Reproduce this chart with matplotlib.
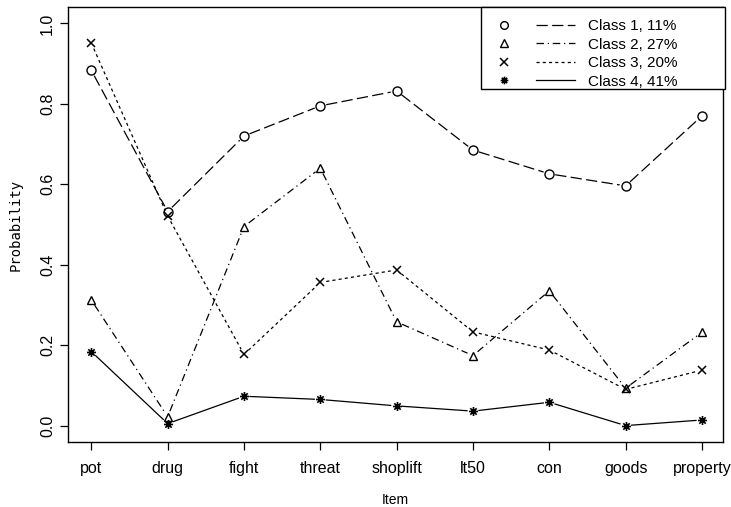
import numpy as np
import matplotlib
matplotlib.use("Agg")
import matplotlib.pyplot as plt
from matplotlib.path import Path
from matplotlib.lines import Line2D
from matplotlib.patches import Rectangle
from matplotlib.legend_handler import HandlerTuple

plt.rcParams["font.family"] = ["Liberation Sans", "DejaVu Sans"]

items = ["pot", "drug", "fight", "threat", "shoplift", "lt50", "con", "goods", "property"]
class_labels = ["Class 1, 11%", "Class 2, 27%", "Class 3, 20%", "Class 4, 41%"]
class1 = [0.883, 0.532, 0.720, 0.795, 0.832, 0.685, 0.626, 0.596, 0.770]
class2 = [0.312, 0.022, 0.495, 0.640, 0.258, 0.174, 0.335, 0.093, 0.232]
class3 = [0.951, 0.521, 0.177, 0.356, 0.387, 0.233, 0.188, 0.090, 0.138]
class4 = [0.184, 0.005, 0.073, 0.065, 0.049, 0.036, 0.058, 0.000, 0.014]
yticks = [0.0, 0.2, 0.4, 0.6, 0.8, 1.0]

# R-style "asterisk" symbol: a plus overlaid on an x
_s = 0.7071
star_path = Path(
    [(-1, 0), (1, 0), (0, -1), (0, 1), (-_s, -_s), (_s, _s), (-_s, _s), (_s, -_s)],
    [Path.MOVETO, Path.LINETO] * 4,
)

styles = [
    dict(marker="o", ms=6.5, mew=1.0, dashes=(9, 3.5)),
    dict(marker="^", ms=6.0, mew=1.0, dashes=(6, 3, 1, 3)),
    dict(marker="x", ms=6.0, mew=1.1, dashes=(2.5, 2.5)),
    dict(marker=star_path, ms=6.5, mew=1.2, dashes=None),
]
series = [class1, class2, class3, class4]

fig = plt.figure(figsize=(7.31, 5.07), dpi=100)
ax = fig.add_axes([0.0926, 0.1288, 0.8969, 0.8568])
x = np.arange(1, len(items) + 1)
ax.set_xlim(0.69, 9.28)
ax.set_ylim(-0.04, 1.04)

LW = 0.9


def gapped_line(xs, ys, gap_px, dashes):
    """Connect consecutive points with segments that stop short of each symbol."""
    pts = ax.transData.transform(np.column_stack([xs, ys]))
    inv = ax.transData.inverted()
    for p, q in zip(pts[:-1], pts[1:]):
        d = q - p
        L = np.hypot(*d)
        if L <= 2 * gap_px:
            continue
        u = d / L
        seg = inv.transform(np.array([p + u * gap_px, q - u * gap_px]))
        ln, = ax.plot(seg[:, 0], seg[:, 1], color="black", lw=LW)
        if dashes:
            ln.set_dashes(dashes)


handles = []
for vals, st, lab in zip(series, styles, class_labels):
    gapped_line(x, vals, 6.0, st["dashes"])
    filled = st["marker"] in ("o", "^")
    ax.plot(x, vals, ls="none", marker=st["marker"], ms=st["ms"],
            mfc="white" if filled else "none", mec="black", mew=st["mew"])
    mk = Line2D([], [], ls="none", marker=st["marker"], ms=st["ms"] * 0.85,
                mfc="white" if filled else "none", mec="black", mew=st["mew"])
    ln = Line2D([], [], color="black", lw=LW)
    if st["dashes"]:
        ln.set_dashes(st["dashes"])
    handles.append((mk, ln))

ax.set_xticks(x)
ax.set_xticklabels(items)
ax.set_yticks(yticks)
ax.set_yticklabels([f"{v:.1f}" for v in yticks], rotation=90, va="center")
ax.tick_params(axis="both", direction="out", length=6, width=0.9, labelsize=11.5,
               color="black")
ax.tick_params(axis="x", pad=8)
ax.tick_params(axis="y", pad=3)
for sp in ax.spines.values():
    sp.set_linewidth(1.0)

ax.set_xlabel("Item", fontsize=10, labelpad=12)
ax.set_ylabel("Probability", fontsize=10, family="DejaVu Sans Mono", labelpad=13)

# legend box in the top-right corner of the plotting region
ax.add_patch(Rectangle((0.630, 0.812), 0.372, 0.188, transform=ax.transAxes,
                       facecolor="white", edgecolor="black", lw=1.0, zorder=4,
                       clip_on=False))
leg = ax.legend(handles, class_labels,
                handler_map={tuple: HandlerTuple(ndivide=None, pad=0.85)},
                loc="upper left", bbox_to_anchor=(0.635, 0.973),
                borderaxespad=0.0, borderpad=0.0, frameon=False,
                fontsize=11, handlelength=5.96, handletextpad=0.85,
                labelspacing=0.3)
leg.set_zorder(5)

fig.savefig("out.png", dpi=100, facecolor="white")
